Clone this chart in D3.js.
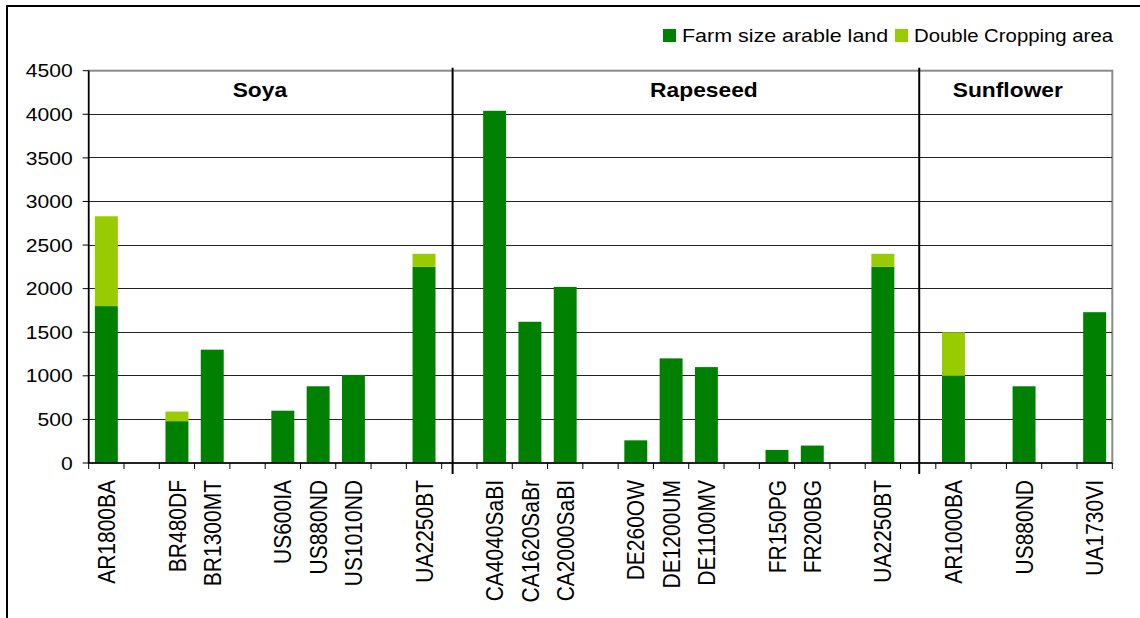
<!DOCTYPE html>
<html>
<head>
<meta charset="utf-8">
<script src="https://cdn.jsdelivr.net/npm/d3@7"></script>
<style>
  html, body { margin: 0; padding: 0; background: #fff; }
  svg { display: block; font-family: "Liberation Sans", Arial, sans-serif; }
</style>
</head>
<body>
<svg id="chart" width="1140" height="618"></svg>
<script>
// farm sizes per oilseed crop, blanks are spacer slots between countries
const categories = [
  "AR1800BA", "", "BR480DF", "BR1300MT", "", "US600IA", "US880ND", "US1010ND", "", "UA2250BT",
  "", "CA4040SaBI", "CA1620SaBr", "CA2000SaBI", "", "DE260OW", "DE1200UM", "DE1100MV", "",
  "FR150PG", "FR200BG", "", "UA2250BT", "", "AR1000BA", "", "US880ND", "", "UA1730VI"
];
const farmSize = [
  1800, 0, 480, 1300, 0, 600, 880, 1010, 0, 2250,
  0, 4040, 1620, 2020, 0, 260, 1200, 1100, 0,
  150, 200, 0, 2250, 0, 1000, 0, 880, 0, 1730
];
const doubleCropping = [
  1030, 0, 110, 0, 0, 0, 0, 0, 0, 150,
  0, 0, 0, 0, 0, 0, 0, 0, 0,
  0, 0, 0, 150, 0, 500, 0, 0, 0, 0
];
const seriesNames = ["Farm size arable land", "Double Cropping area"];
const seriesColors = ["#008000", "#99CC00"];
const sectionNames = ["Soya", "Rapeseed", "Sunflower"];
const yTicks = [0, 500, 1000, 1500, 2000, 2500, 3000, 3500, 4000, 4500];

// layout (slot units for dividers and titles)
const DIVIDER_AT = [10.31, 23.53];
const TITLE_AT = [4.85, 17.43, 26.04];
const X0 = 88.7, X1 = 1112.3, Y0 = 463, Y1 = 70.7;
const SX = 1.14; // the source picture is stretched horizontally

const svg = d3.select("#chart");

// outer frame, only left and top edges are visible
svg.append("rect")
  .attr("x", 7).attr("y", 6).attr("width", 1300).attr("height", 800)
  .attr("fill", "#fff").attr("stroke", "#000").attr("stroke-width", 2);

const x = d3.scaleBand()
  .domain(d3.range(categories.length))
  .range([X0, X1])
  .paddingInner(0.35)
  .paddingOuter(0.175);
const step = x.step();
const slotX = (s) => X0 + s * step;

const y = d3.scaleLinear().domain([0, 4500]).range([Y0, Y1]);

// plot area
svg.append("rect")
  .attr("x", X0).attr("y", Y1).attr("width", X1 - X0).attr("height", Y0 - Y1)
  .attr("fill", "#fff").attr("stroke", "#8a8a8a").attr("stroke-width", 2);

svg.append("g")
  .selectAll("line")
  .data(yTicks.filter((t) => t > 0 && t < 4500))
  .join("line")
  .attr("x1", X0).attr("x2", X1)
  .attr("y1", (d) => y(d)).attr("y2", (d) => y(d))
  .attr("stroke", "#222").attr("stroke-width", 1)
  .attr("shape-rendering", "crispEdges");

// stacked bars
const table = categories.map((c, i) => ({ i, farm: farmSize[i], double: doubleCropping[i] }));
const stacked = d3.stack().keys(["farm", "double"])(table);

svg.append("g")
  .selectAll("g")
  .data(stacked)
  .join("g")
  .attr("fill", (_d, k) => seriesColors[k])
  .selectAll("rect")
  .data((s) => s.filter((d) => d[1] - d[0] > 0))
  .join("rect")
  .attr("x", (d) => x(d.data.i))
  .attr("width", x.bandwidth())
  .attr("y", (d) => y(d[1]))
  .attr("height", (d) => y(d[0]) - y(d[1]));

// y axis
const yAxis = svg.append("g").attr("transform", `translate(${X0},0)`);
yAxis.append("line")
  .attr("x1", 0).attr("x2", 0).attr("y1", Y1).attr("y2", Y0)
  .attr("stroke", "#000").attr("stroke-width", 1.5);
yAxis.selectAll("line.tick")
  .data(yTicks)
  .join("line")
  .attr("class", "tick")
  .attr("x1", -6).attr("x2", 0)
  .attr("y1", (d) => y(d)).attr("y2", (d) => y(d))
  .attr("stroke", "#000").attr("stroke-width", 1);
yAxis.selectAll("text")
  .data(yTicks)
  .join("text")
  .attr("transform", (d) => `translate(-16,${y(d)}) scale(${SX},1)`)
  .attr("dy", "0.36em")
  .attr("text-anchor", "end")
  .attr("font-size", 18.5)
  .attr("fill", "#000")
  .text((d) => d);

// x axis with ticks on slot boundaries
const xAxis = svg.append("g");
xAxis.append("line")
  .attr("x1", X0).attr("x2", X1).attr("y1", Y0).attr("y2", Y0)
  .attr("stroke", "#000").attr("stroke-width", 1.5);
xAxis.selectAll("line.tick")
  .data(d3.range(categories.length + 1))
  .join("line")
  .attr("class", "tick")
  .attr("x1", (d) => slotX(d)).attr("x2", (d) => slotX(d))
  .attr("y1", Y0).attr("y2", Y0 + 6)
  .attr("stroke", "#000").attr("stroke-width", 1);
xAxis.selectAll("text")
  .data(table.filter((d) => categories[d.i] !== ""))
  .join("text")
  .attr("transform", (d) => `translate(${x(d.i) + x.bandwidth() / 2},${Y0 + 17}) scale(${SX},1) rotate(-90)`)
  .attr("dy", "0.36em")
  .attr("text-anchor", "end")
  .attr("font-size", 21)
  .attr("fill", "#000")
  .text((d) => categories[d.i]);

// crop section dividers and titles
svg.append("g")
  .selectAll("line")
  .data(DIVIDER_AT)
  .join("line")
  .attr("x1", (d) => slotX(d)).attr("x2", (d) => slotX(d))
  .attr("y1", Y1 - 3).attr("y2", Y0 + 11)
  .attr("stroke", "#000").attr("stroke-width", 2);

svg.append("g")
  .selectAll("text")
  .data(sectionNames)
  .join("text")
  .attr("transform", (_d, i) => `translate(${slotX(TITLE_AT[i])},96.5) scale(${SX},1)`)
  .attr("text-anchor", "middle")
  .attr("font-size", 20)
  .attr("font-weight", "bold")
  .attr("fill", "#000")
  .text((d) => d);

// legend
const legendX = [663, 895];
const legendSX = [1.16, 1.1];
const legend = svg.append("g")
  .selectAll("g")
  .data(seriesNames)
  .join("g")
  .attr("transform", (_d, i) => `translate(${legendX[i]},29)`);
legend.append("rect")
  .attr("width", 13).attr("height", 13)
  .attr("fill", (_d, i) => seriesColors[i]);
legend.append("text")
  .attr("transform", (_d, i) => `translate(19,12.8) scale(${legendSX[i]},1)`)
  .attr("font-size", 18.5)
  .attr("fill", "#000")
  .text((d) => d);
</script>
</body>
</html>
